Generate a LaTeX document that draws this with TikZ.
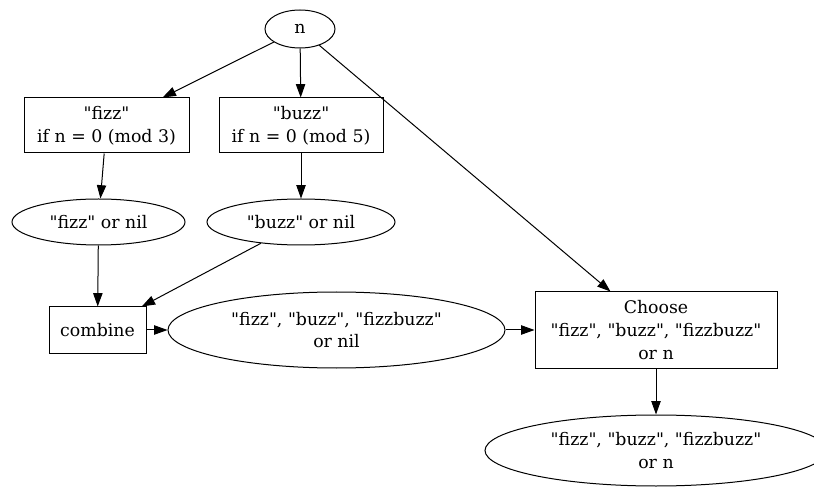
\documentclass[tikz,border=0pt]{standalone}
\usepackage{fontspec}
\setmainfont{DejaVu Serif}
\usetikzlibrary{arrows.meta, shapes.geometric}
\newcommand{\qt}[1]{\textquotedbl#1\textquotedbl} % straight quotes round #1
\tikzset{
  box/.style={draw, rectangle, inner sep=0pt, align=center, line width=0.75pt},
  oval/.style={draw, ellipse, inner sep=0pt, align=center, line width=0.75pt},
  arr/.style={-{Triangle[length=10pt,width=7pt]}, line width=0.75pt}
}

\begin{document}
\begin{tikzpicture}[x=0.75pt, y=-0.75pt, font=\fontsize{13}{17}\selectfont]
\useasboundingbox (0,0) rectangle (814,488);

% Input n at the top
\node[oval, minimum width=52.5pt, minimum height=28.5pt] (n) at (300,29) {n};

% The two tests, fizz and buzz
\node[box, minimum width=123.75pt, minimum height=41.25pt] (fizz) at (106.5,125.5) {\qt{fizz}\\if n = 0 (mod 3)};
\node[box, minimum width=123pt, minimum height=41.25pt] (buzz) at (301,125.5) {\qt{buzz}\\if n = 0 (mod 5)};

% Their results
\node[oval, minimum width=129.75pt, minimum height=34.5pt] (fizzres) at (98.5,222) {\qt{fizz} or nil};
\node[oval, minimum width=141pt, minimum height=34.5pt] (buzzres) at (301,222) {\qt{buzz} or nil};

% Combine step, middle row
\node[box, minimum width=72.75pt, minimum height=34.5pt] (combine) at (97.5,330) {combine};
\node[oval, minimum width=252.75pt, minimum height=57pt] (combres) at (336.5,330) {\qt{fizz}, \qt{buzz}, \qt{fizzbuzz}\\or nil};
\node[box, minimum width=181.5pt, minimum height=57pt] (choose) at (656,330) {Choose\\\qt{fizz}, \qt{buzz}, \qt{fizzbuzz}\\or n};

% Output, cut at the right edge
\node[oval, minimum width=256.5pt, minimum height=53.25pt] (out) at (656,450.5) {\qt{fizz}, \qt{buzz}, \qt{fizzbuzz}\\or n};

% Connectors
\draw[arr] (n) -- (fizz);
\draw[arr] (n) -- (buzz);
\draw[arr] (n) -- (choose);
\draw[arr] (fizz) -- (fizzres);
\draw[arr] (buzz) -- (buzzres);
\draw[arr] (fizzres) -- (combine);
\draw[arr] (buzzres) -- (combine);
\draw[arr] (combine) -- (combres);
\draw[arr] (combres) -- (choose);
\draw[arr] (choose) -- (out);

\end{tikzpicture}
\end{document}
